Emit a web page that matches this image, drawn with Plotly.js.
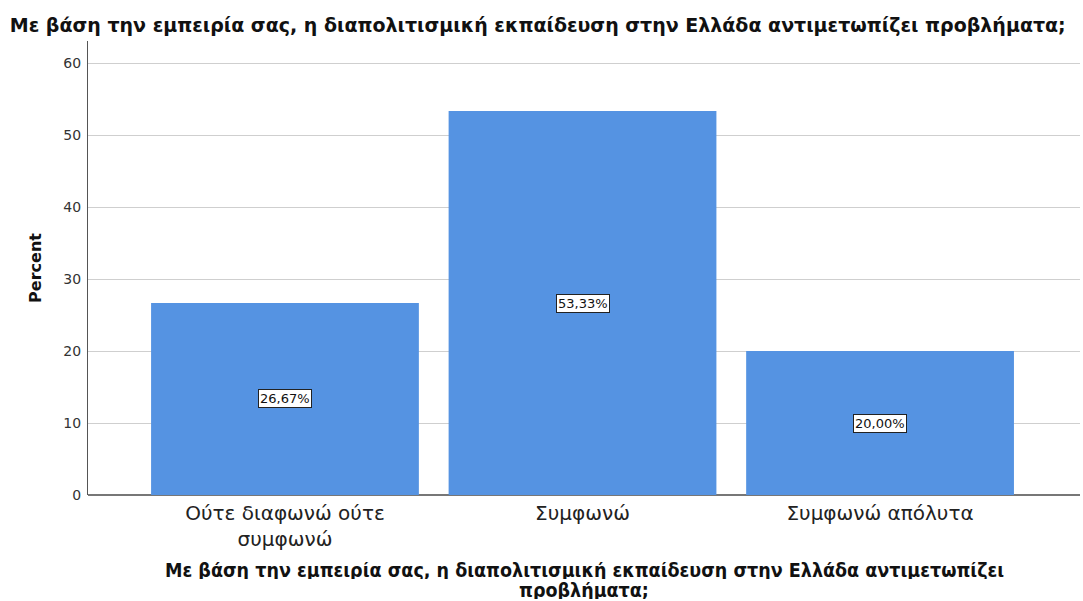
<!DOCTYPE html>
<html>
<head>
<meta charset="utf-8">
<script src="https://cdn.plot.ly/plotly-3.0.1.min.js"></script>
<style>html,body{margin:0;padding:0;background:#fff;}#chart{width:1083px;height:601px;}</style>
</head>
<body>
<div id="chart"></div>
<script>
const categories = ["Ούτε διαφωνώ ούτε<br>συμφωνώ", "Συμφωνώ", "Συμφωνώ απόλυτα"];
const percents = [26.67, 53.33, 20.00];
const labels = ["26,67%", "53,33%", "20,00%"];
const chartTitle = "Με βάση την εμπειρία σας, η διαπολιτισμική εκπαίδευση στην Ελλάδα αντιμετωπίζει προβλήματα;";
const xTitleLines = ["Με βάση την εμπειρία σας, η διαπολιτισμική εκπαίδευση στην Ελλάδα αντιμετωπίζει", "προβλήματα;"];
const yTitle = "Percent";
const yTicks = [0, 10, 20, 30, 40, 50, 60];

const idx = categories.map((c, i) => i);

const trace = {
  type: 'bar',
  x: idx,
  y: percents,
  marker: {color: '#5593e2', line: {width: 0}},
  hoverinfo: 'none'
};

const annotations = idx.map((i) => ({
  x: i, y: percents[i] / 2, xref: 'x', yref: 'y',
  text: labels[i], showarrow: false,
  font: {family: 'DejaVu Sans', size: 13, color: '#111'},
  bgcolor: '#ffffff', bordercolor: '#222', borderwidth: 1, borderpad: 1
}));
const titleYs = [-0.1674, -0.2093];
xTitleLines.forEach((t, k) => annotations.push({
  x: 0.5, xref: 'paper', y: titleYs[k], yref: 'paper', yanchor: 'middle',
  text: t, showarrow: false, borderpad: 0, height: 17, valign: 'middle',
  font: {family: 'DejaVu Sans Condensed, DejaVu Sans', size: 19.5, color: '#111', weight: 'bold'}
}));

const layout = {
  width: 1083, height: 601,
  paper_bgcolor: '#ffffff', plot_bgcolor: '#ffffff',
  margin: {l: 88, r: 3, t: 41, b: 106},
  bargap: 0.1,
  showlegend: false,
  title: {
    text: chartTitle, x: 0.009, xanchor: 'left', xref: 'container',
    y: 0.958, yanchor: 'middle', yref: 'container',
    font: {family: 'DejaVu Sans', size: 19, color: '#111', weight: 'bold'}
  },
  xaxis: {
    range: [-0.662, 2.672],
    tickvals: idx, ticktext: categories,
    showgrid: false, zeroline: false,
    showline: false,
    ticks: '', ticklen: 0, ticklabelstandoff: 4,
    tickfont: {family: 'DejaVu Sans', size: 20, color: '#222'}
  },
  yaxis: {
    range: [0, 63.06],
    tickvals: yTicks,
    showgrid: true, gridcolor: '#cfcfcf', gridwidth: 1,
    zeroline: true, zerolinecolor: '#777', zerolinewidth: 2,
    showline: true, linecolor: '#555', linewidth: 1,
    ticks: '', ticklabelstandoff: 3,
    tickfont: {family: 'DejaVu Sans', size: 14, color: '#333'},
    title: {text: yTitle, standoff: 17, font: {family: 'DejaVu Sans', size: 16, color: '#111', weight: 'bold'}}
  },
  annotations: annotations
};

Plotly.newPlot('chart', [trace], layout, {displayModeBar: false, staticPlot: true});
</script>
</body>
</html>
